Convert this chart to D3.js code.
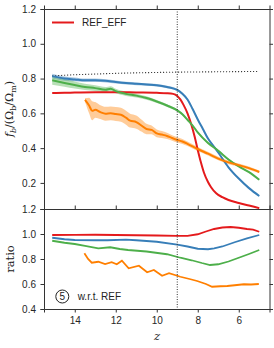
<!DOCTYPE html>
<html>
<head>
<meta charset="utf-8">
<script src="https://cdn.jsdelivr.net/npm/d3@7"></script>
<style>
  body { margin: 0; background: #fff; }
  svg { display: block; font-family: "Liberation Sans", Arial, sans-serif; }
  .tick text { font-size: 10px; fill: #262626; }
  .domain, .tick line { stroke: #333; }
</style>
</head>
<body>
<div id="chart"></div>
<script>
// top panel: f_b / (Omega_b/Omega_m) vs redshift
var redZ   = [15.1, 14.5, 14, 13, 12, 11, 10, 9.5, 9.2, 9.0, 8.85, 8.7, 8.5, 8.3, 8.15, 8.0, 7.85, 7.7, 7.5, 7.35, 7.1, 6.8, 6.5, 6.0, 5.5, 5.0]
var redFb  = [0.717, 0.718, 0.72, 0.722, 0.722, 0.72, 0.718, 0.716, 0.712, 0.70, 0.68, 0.65, 0.60, 0.53, 0.465, 0.39, 0.32, 0.26, 0.205, 0.175, 0.14, 0.118, 0.102, 0.085, 0.07, 0.055]

var blueZ   = [15.1, 14.5, 14, 13.5, 13, 12.5, 12, 11.5, 11, 10.5, 10, 9.5, 9, 8.75, 8.5, 8.25, 8, 7.75, 7.5, 7.25, 7, 6.5, 6, 5.5, 5]
var blueFb  = [0.814, 0.80, 0.795, 0.79, 0.79, 0.787, 0.78, 0.774, 0.77, 0.766, 0.762, 0.752, 0.735, 0.713, 0.68, 0.625, 0.565, 0.51, 0.455, 0.415, 0.375, 0.29, 0.225, 0.17, 0.125]
var blueErr = [0.014, 0.012, 0.011, 0.01, 0.01, 0.009, 0.009, 0.008, 0.008, 0.007, 0.007, 0.007, 0.006, 0.006, 0.006, 0.006, 0.005, 0.005, 0.005, 0.005, 0.005, 0.004, 0.004, 0.004, 0.004]

var greenZ   = [15.1, 14.5, 14, 13.5, 13, 12.5, 12.25, 12, 11.5, 11, 10.5, 10, 9.5, 9, 8.75, 8.5, 8.25, 8, 7.5, 7, 6.5, 6, 5.5, 5]
var greenFb  = [0.79, 0.775, 0.763, 0.752, 0.745, 0.736, 0.742, 0.728, 0.712, 0.702, 0.688, 0.668, 0.645, 0.617, 0.595, 0.563, 0.53, 0.49, 0.43, 0.385, 0.335, 0.295, 0.262, 0.218]
var greenErr = [0.025, 0.022, 0.02, 0.018, 0.016, 0.015, 0.014, 0.013, 0.012, 0.011, 0.01, 0.009, 0.008, 0.007, 0.007, 0.006, 0.006, 0.006, 0.005, 0.005, 0.005, 0.004, 0.004, 0.004]

var orangeZ   = [13.5, 13.3, 13.15, 13.0, 12.75, 12.5, 12.25, 12.0, 11.75, 11.5, 11.3, 11.0, 10.75, 10.5, 10.25, 10.0, 9.75, 9.5, 9.25, 9.0, 8.75, 8.5, 8.0, 7.5, 7.0, 6.5, 6.0, 5.5, 5.0]
var orangeFb  = [0.677, 0.645, 0.615, 0.62, 0.607, 0.598, 0.60, 0.596, 0.592, 0.575, 0.558, 0.55, 0.53, 0.51, 0.505, 0.485, 0.478, 0.47, 0.458, 0.447, 0.438, 0.425, 0.395, 0.368, 0.34, 0.318, 0.302, 0.285, 0.263]
var orangeErr = [0.01, 0.045, 0.055, 0.045, 0.04, 0.04, 0.04, 0.04, 0.04, 0.04, 0.04, 0.038, 0.035, 0.03, 0.025, 0.022, 0.02, 0.018, 0.016, 0.015, 0.014, 0.013, 0.012, 0.011, 0.01, 0.01, 0.009, 0.009, 0.008]

var refZ  = [15.1, 14, 13, 12, 11, 10, 9, 8, 7, 6, 5.05]
var refFb = [0.815, 0.822, 0.826, 0.83, 0.833, 0.835, 0.837, 0.838, 0.839, 0.84, 0.841]

// bottom panel: ratio w.r.t. REF
var redRatioZ = [15.1, 14, 13, 12, 11, 10, 9, 8.5, 8, 7.6, 7.2, 6.8, 6.4, 6.0, 5.6, 5.3, 5.0]
var redRatio  = [0.992, 0.993, 0.994, 0.992, 0.99, 0.988, 0.985, 0.985, 0.998, 1.02, 1.04, 1.052, 1.056, 1.05, 1.04, 1.035, 1.018]
var blueRatioZ = [15.1, 14.5, 14, 13, 12.4, 11.5, 11, 10, 9, 8.5, 8, 7.5, 7.2, 6.8, 6.2, 5.6, 5.0]
var blueRatio  = [0.97, 0.958, 0.952, 0.95, 0.95, 0.955, 0.95, 0.938, 0.915, 0.9, 0.882, 0.878, 0.885, 0.9, 0.934, 0.965, 0.992]
var greenRatioZ = [15.1, 14.5, 14, 13.5, 12.85, 12.27, 11.8, 11.4, 10.5, 9.5, 8.85, 8.3, 7.8, 7.4, 7.0, 6.5, 6.0, 5.5, 5.0]
var greenRatio  = [0.946, 0.93, 0.92, 0.905, 0.885, 0.894, 0.88, 0.872, 0.86, 0.838, 0.81, 0.79, 0.768, 0.752, 0.758, 0.78, 0.81, 0.84, 0.872]
var orangeRatioZ = [13.53, 13.35, 13.17, 12.85, 12.52, 12.2, 11.95, 11.7, 11.37, 10.87, 10.47, 10.14, 9.74, 9.4, 8.85, 8.4, 8.03, 7.6, 7.3, 6.9, 6.56, 6.2, 5.75, 5.4, 5.02]
var orangeRatio  = [0.846, 0.80, 0.77, 0.778, 0.76, 0.774, 0.758, 0.786, 0.726, 0.746, 0.694, 0.712, 0.666, 0.686, 0.658, 0.64, 0.624, 0.60, 0.578, 0.582, 0.584, 0.59, 0.598, 0.596, 0.60]

var zTicks = [14, 12, 10, 8, 6]
var topTicks = [0.2, 0.4, 0.6, 0.8, 1.0, 1.2]
var botTicks = [0.4, 0.6, 0.8, 1.0, 1.2]
var zMark = 9

var col = {red: '#e41a1c', blue: '#377eb8', green: '#4daf4a', orange: '#ff7f00'}

var W = 274, H = 348
var L = 44, R = 269.5, T = 9, MID = 209, B = 309

var svg = d3.select('#chart').append('svg').attr('width', W).attr('height', H)

var x = d3.scaleLinear().domain([15.5, 4.5]).range([L, R])
var yTop = d3.scaleLinear().domain([0.05, 1.2]).range([MID, T])
var yBot = d3.scaleLinear().domain([0.4, 1.2]).range([B, MID])

function pts(zs, vs, es){
  return zs.map(function(z, i){ return {z: z, v: vs[i], e: es ? es[i] : 0} })
}

var defs = svg.append('defs')
defs.append('clipPath').attr('id', 'clipTop').append('rect')
  .attr('x', L).attr('y', T).attr('width', R - L).attr('height', MID - T)
defs.append('clipPath').attr('id', 'clipBot').append('rect')
  .attr('x', L).attr('y', MID).attr('width', R - L).attr('height', B - MID)

var gTop = svg.append('g').attr('clip-path', 'url(#clipTop)')
var gBot = svg.append('g').attr('clip-path', 'url(#clipBot)')

function lineFor(y){ return d3.line().x(d => x(d.z)).y(d => y(d.v)).curve(d3.curveMonotoneX) }
var band = d3.area().x(d => x(d.z)).y0(d => yTop(d.v - d.e)).y1(d => yTop(d.v + d.e)).curve(d3.curveMonotoneX)

// bands
;[[blueZ, blueFb, blueErr, col.blue], [greenZ, greenFb, greenErr, col.green], [orangeZ, orangeFb, orangeErr, col.orange]]
  .forEach(function(s){
    gTop.append('path').attr('d', band(pts(s[0], s[1], s[2])))
      .attr('fill', s[3]).attr('opacity', 0.4)
  })

// reference dotted line
gTop.append('path').attr('d', lineFor(yTop)(pts(refZ, refFb)))
  .attr('fill', 'none').attr('stroke', '#222').attr('stroke-width', 1.1).attr('stroke-dasharray', '1,2')

// top lines
;[[redZ, redFb, col.red], [blueZ, blueFb, col.blue], [greenZ, greenFb, col.green], [orangeZ, orangeFb, col.orange]]
  .forEach(function(s){
    gTop.append('path').attr('d', lineFor(yTop)(pts(s[0], s[1])))
      .attr('fill', 'none').attr('stroke', s[2]).attr('stroke-width', 2)
  })

// bottom lines
;[[redRatioZ, redRatio, col.red], [blueRatioZ, blueRatio, col.blue], [greenRatioZ, greenRatio, col.green], [orangeRatioZ, orangeRatio, col.orange]]
  .forEach(function(s){
    gBot.append('path').attr('d', d3.line().x(d => x(d.z)).y(d => yBot(d.v))(pts(s[0], s[1])))
      .attr('fill', 'none').attr('stroke', s[2]).attr('stroke-width', 1.8)
  })

// vertical marker
svg.append('line').attr('x1', x(zMark)).attr('x2', x(zMark)).attr('y1', T).attr('y2', B)
  .attr('stroke', '#333').attr('stroke-width', 1).attr('stroke-dasharray', '1,1.5')

// axes
var fmt = d3.format('.1f')
svg.append('g').attr('transform', 'translate(' + L + ',0)')
  .call(d3.axisLeft(yTop).tickValues(topTicks).tickFormat(fmt).tickSize(3.5).tickPadding(4.5))
svg.append('g').attr('transform', 'translate(' + L + ',0)')
  .call(d3.axisLeft(yBot).tickValues(botTicks).tickFormat(fmt).tickSize(3.5).tickPadding(4.5))
svg.append('g').attr('transform', 'translate(' + R + ',0)')
  .call(d3.axisRight(yTop).tickValues(topTicks).tickFormat('').tickSize(3.5))
svg.append('g').attr('transform', 'translate(' + R + ',0)')
  .call(d3.axisRight(yBot).tickValues(botTicks).tickFormat('').tickSize(3.5))
svg.append('g').attr('transform', 'translate(0,' + T + ')')
  .call(d3.axisTop(x).tickValues(zTicks).tickFormat('').tickSize(3.5))
svg.append('g').attr('transform', 'translate(0,' + MID + ')')
  .call(d3.axisTop(x).tickValues(zTicks).tickFormat('').tickSize(3.5))
svg.append('g').attr('transform', 'translate(0,' + B + ')')
  .call(d3.axisBottom(x).tickValues(zTicks).tickFormat(d3.format('d')).tickSize(3.5).tickPadding(4))
svg.selectAll('.domain').attr('stroke', '#333')

// legend
svg.append('line').attr('x1', 52).attr('x2', 74).attr('y1', 22.5).attr('y2', 22.5)
  .attr('stroke', col.red).attr('stroke-width', 2)
svg.append('text').attr('x', 82).attr('y', 26).attr('font-size', 10).attr('fill', '#222').text('REF_EFF')

// y labels
var yl = svg.append('text').attr('transform', 'translate(13,109) rotate(-90)')
  .attr('text-anchor', 'middle').attr('font-family', '"DejaVu Serif", serif').attr('font-size', 11).attr('fill', '#222')
yl.append('tspan').attr('font-style', 'italic').text('f')
yl.append('tspan').attr('font-size', 8).attr('dy', 2.5).attr('font-style', 'italic').text('b')
yl.append('tspan').attr('dy', -2.5).text('/(Ω')
yl.append('tspan').attr('font-size', 8).attr('dy', 2.5).text('b')
yl.append('tspan').attr('dy', -2.5).text('/Ω')
yl.append('tspan').attr('font-size', 8).attr('dy', 2.5).text('m')
yl.append('tspan').attr('dy', -2.5).text(')')

svg.append('text').attr('transform', 'translate(14,259) rotate(-90)')
  .attr('text-anchor', 'middle').attr('font-family', '"DejaVu Serif", serif').attr('font-size', 11.5).attr('fill', '#222')
  .text('ratio')

svg.append('text').attr('x', 157).attr('y', 340).attr('text-anchor', 'middle')
  .attr('font-family', '"DejaVu Serif", serif').attr('font-style', 'italic').attr('font-size', 11.5).attr('fill', '#222')
  .text('z')

// panel annotation
svg.append('circle').attr('cx', 62.3).attr('cy', 296.5).attr('r', 6.5)
  .attr('fill', 'none').attr('stroke', '#222').attr('stroke-width', 1)
svg.append('text').attr('x', 62.3).attr('y', 300).attr('text-anchor', 'middle').attr('font-size', 10).attr('fill', '#222').text('5')
svg.append('text').attr('x', 77.7).attr('y', 299.5).attr('font-size', 10).attr('fill', '#222').text('w.r.t. REF')
</script>
</body>
</html>
